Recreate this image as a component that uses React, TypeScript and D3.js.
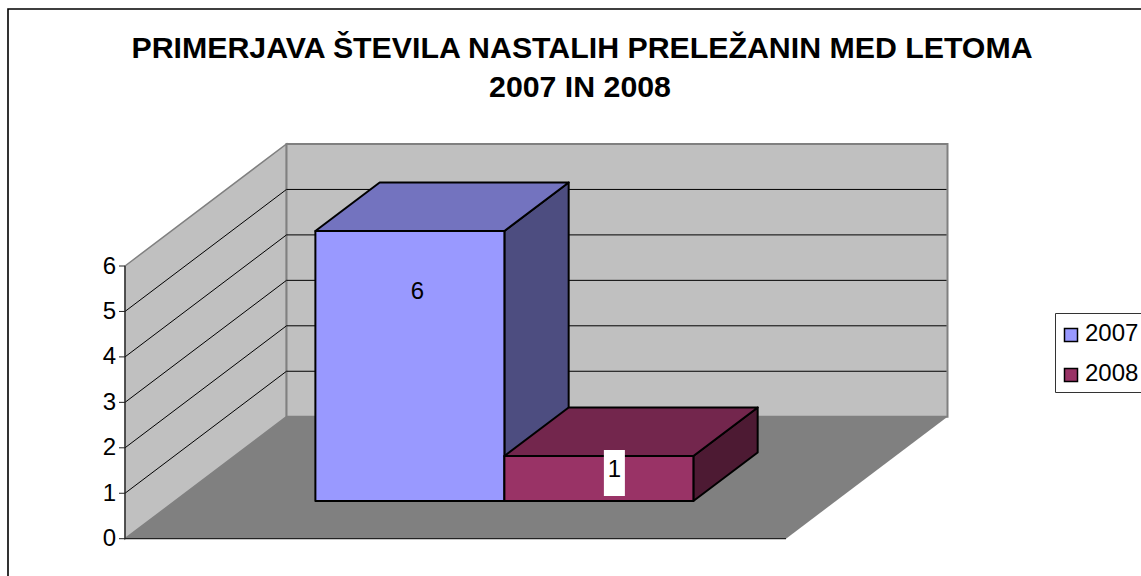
import React from "react";
import * as d3 from "d3";

const titleLines = ["PRIMERJAVA ŠTEVILA NASTALIH PRELEŽANIN MED LETOMA", "2007 IN 2008"];
const seriesNames = ["2007", "2008"];
const seriesValues = [6, 1];
const seriesColors = ["#9999ff", "#993366"];
const yTicks = [0, 1, 2, 3, 4, 5, 6];

const W = 1141;
const H = 576;
const FONT = "'Liberation Sans', Arial, sans-serif";

// oblique 3d box: t goes from front (0) to back wall (1)
const depthX = d3.scaleLinear().domain([0, 1]).range([0, 161.5]);
const depthY = d3.scaleLinear().domain([0, 1]).range([0, -122]);
const frontX = d3.scaleLinear().domain([0, 1]).range([125, 786]);
const frontY = d3.scaleLinear().domain([0, 6]).range([538.7, 266]);
const barH = d3.scaleLinear().domain([0, 6]).range([0, 270]);

const barBand = d3.scaleBand<string>().domain(seriesNames).range([265, 643]);
const barFrontT = 0.312;
const barBackT = 0.71;
const barBaseY = 501;

const pt = (x: number, y: number, t: number): [number, number] => [x + depthX(t), y + depthY(t)];
const poly = (pts: [number, number][]) => d3.line()(pts) + "Z";

// side and top faces are the series colour multiplied down
function shade(color: string, k: number) {
  const c = d3.rgb(color);
  return d3.rgb(c.r * k, c.g * k, c.b * k).formatHex();
}

export default function App() {
  const x0 = frontX(0);
  const x1 = frontX(1);
  const y0 = frontY(0);
  const y6 = frontY(6);

  return (
    <svg
      width={W}
      height={H}
      style={{ position: "absolute", left: 0, top: 0, background: "#fff" }}
      fontFamily={FONT}
    >
      <path d={`M8,${H}V9H${W}`} fill="none" stroke="#000" strokeWidth={1.6} />

      {titleLines.map((line, i) => (
        <text key={i} x={i === 0 ? 582 : 580} y={58 + i * 39} textAnchor="middle" fontSize={30.3} fontWeight="bold" fill="#000">
          {line}
        </text>
      ))}

      {/* side wall */}
      <path d={poly([pt(x0, y0, 0), pt(x0, y6, 0), pt(x0, y6, 1), pt(x0, y0, 1)])} fill="#c0c0c0" stroke="#808080" strokeWidth={1.5} />
      {/* back wall */}
      <path d={poly([pt(x0, y0, 1), pt(x0, y6, 1), pt(x1, y6, 1), pt(x1, y0, 1)])} fill="#c0c0c0" stroke="#808080" strokeWidth={2} />
      {/* floor */}
      <path d={poly([pt(x0, y0, 0), pt(x0, y0, 1), pt(x1, y0, 1), pt(x1, y0, 0)])} fill="#808080" />

      {/* gridlines */}
      {yTicks.slice(1, -1).map((v) => {
        const y = frontY(v);
        const a = pt(x0, y, 0);
        const b = pt(x0, y, 1);
        const c = pt(x1, y, 1);
        return (
          <path key={v} d={`M${a[0]},${a[1]}L${b[0]},${b[1]}L${c[0] - 1},${c[1]}`} fill="none" stroke="#000" strokeWidth={1} />
        );
      })}

      {/* axes */}
      <path d={`M${x0},${y6}V${y0}H${x1}`} fill="none" stroke="#222" strokeWidth={1.2} />
      {yTicks.map((v) => (
        <g key={v}>
          <line x1={x0 - 6} x2={x0} y1={frontY(v)} y2={frontY(v)} stroke="#222" />
          <text x={x0 - 9} y={frontY(v) + 7.5} textAnchor="end" fontSize={24} fill="#000">
            {v}
          </text>
        </g>
      ))}

      {/* bars */}
      {seriesNames.map((name, i) => {
        const left = barBand(name)!;
        const right = left + barBand.bandwidth();
        const bottom = barBaseY - depthY(barFrontT);
        const top = bottom - barH(seriesValues[i]);
        const f = barFrontT;
        const b = barBackT;
        const color = seriesColors[i];
        return (
          <g key={name} stroke="#000" strokeWidth={2} strokeLinejoin="round">
            <path d={poly([pt(right, bottom, f), pt(right, top, f), pt(right, top, b), pt(right, bottom, b)])} fill={shade(color, 0.5)} />
            <path d={poly([pt(left, top, f), pt(left, top, b), pt(right, top, b), pt(right, top, f)])} fill={shade(color, 0.75)} />
            <path d={poly([pt(left, bottom, f), pt(left, top, f), pt(right, top, f), pt(right, bottom, f)])} fill={color} />
          </g>
        );
      })}

      {/* data labels */}
      {seriesNames.map((name, i) => {
        const cx = barBand(name)! + depthX(barFrontT) + barBand.bandwidth() / 2 + (i === 0 ? 7.5 : 15.5);
        const top = barBaseY - barH(seriesValues[i]);
        return (
          <g key={name}>
            {i === 1 && <rect x={cx - 10.5} y={top - 6} width={21} height={46} fill="#fff" />}
            <text x={cx} y={i === 0 ? top + 68 : top + 21} textAnchor="middle" fontSize={24} fill="#000">
              {seriesValues[i]}
            </text>
          </g>
        );
      })}

      {/* legend */}
      <path d={`M${W},313.5H1055.5V392.5H${W}`} fill="#fff" stroke="#333" strokeWidth={1} />
      {seriesNames.map((name, i) => (
        <g key={name}>
          <rect x={1064.5} y={328.5 + i * 40} width={13} height={13} fill={seriesColors[i]} stroke="#000" strokeWidth={1.5} />
          <text x={1085} y={341 + i * 40} fontSize={24} fill="#000">
            {name}
          </text>
        </g>
      ))}
    </svg>
  );
}
